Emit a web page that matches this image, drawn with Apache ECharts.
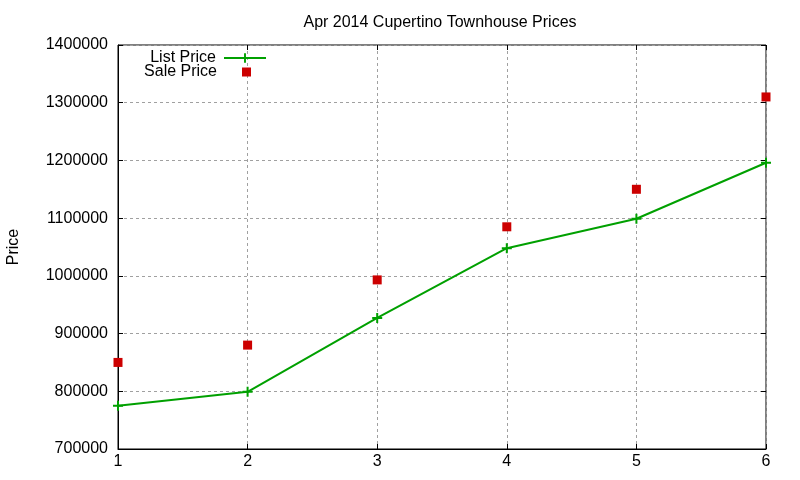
<!DOCTYPE html>
<html><head><meta charset="utf-8">
<script src="https://cdn.jsdelivr.net/npm/echarts@6/dist/echarts.min.js"></script>
<style>html,body{margin:0;padding:0;background:#fff}#c{width:800px;height:480px}</style>
</head><body><div id="c"></div>
<script>
const months = [1, 2, 3, 4, 5, 6];
const listPrice = [775000, 799000, 927000, 1048000, 1099000, 1196000];
const salePrice = [850000, 880000, 993000, 1085000, 1150000, 1310000];
const yTicks = [700000, 800000, 900000, 1000000, 1100000, 1200000, 1300000, 1400000];

const font = 'Liberation Sans, Arial, sans-serif';
const plus = 'path://M4,0H6V4H10V6H6V10H4V6H0V4H4Z';
const txt = {fontFamily: font, fontSize: 16, color: '#000'};
const chart = echarts.init(document.getElementById('c'));
chart.setOption({
  animation: false,
  backgroundColor: '#fff',
  title: {
    text: 'Apr 2014 Cupertino Townhouse Prices',
    left: 435, top: 10, textAlign: 'center',
    textStyle: Object.assign({fontWeight: 'normal'}, txt)
  },
  legend: [{
    orient: 'horizontal', right: 528, top: 45, align: 'right',
    itemWidth: 42, itemHeight: 12,
    textStyle: Object.assign({padding: [0, 3, 0, 0]}, txt),
    data: [{name: 'List Price'}]
  }, {
    orient: 'horizontal', right: 544, top: 59, align: 'right',
    itemWidth: 9, itemHeight: 9,
    textStyle: Object.assign({padding: [0, 20, 0, 0]}, txt),
    data: [{name: 'Sale Price', icon: 'rect'}]
  }],
  grid: {left: 118, right: 34, top: 45, bottom: 31, show: true, borderColor: '#000', borderWidth: 1, outerBoundsMode: 'none'},
  xAxis: [{
    type: 'value', min: 1, max: 6, interval: 1,
    axisLine: {show: true, lineStyle: {color: '#000'}},
    axisTick: {show: true, inside: true, length: 5, lineStyle: {color: '#000'}},
    axisLabel: Object.assign({margin: 5}, txt),
    splitLine: {show: true, lineStyle: {color: '#a0a0a0', type: [3, 3]}}
  }, {
    type: 'value', min: 1, max: 6, interval: 1, position: 'top',
    axisLine: {show: false}, axisTick: {show: true, inside: true, length: 5, lineStyle: {color: '#000'}},
    axisLabel: {show: false}, splitLine: {show: false}
  }],
  yAxis: [{
    type: 'value', min: yTicks[0], max: yTicks[yTicks.length - 1], interval: 100000,
    name: 'Price', nameLocation: 'middle', nameGap: 96, nameRotate: 90,
    nameTextStyle: txt,
    axisLine: {show: true, lineStyle: {color: '#000'}},
    axisTick: {show: true, inside: true, length: 5, lineStyle: {color: '#000'}},
    axisLabel: Object.assign({margin: 10, formatter: v => String(v)}, txt),
    splitLine: {show: true, lineStyle: {color: '#a0a0a0', type: [3, 3]}}
  }, {
    type: 'value', min: yTicks[0], max: yTicks[yTicks.length - 1], interval: 100000, position: 'right',
    axisLine: {show: false}, axisTick: {show: true, inside: true, length: 5, lineStyle: {color: '#000'}},
    axisLabel: {show: false}, splitLine: {show: false}
  }],
  series: [{
    name: 'List Price', type: 'line',
    data: months.map((m, i) => [m, listPrice[i]]),
    symbol: plus, symbolSize: 10, showSymbol: true,
    itemStyle: {color: '#00a000'},
    lineStyle: {color: '#00a000', width: 2},
    z: 3
  }, {
    name: 'Sale Price', type: 'scatter',
    data: months.map((m, i) => [m, salePrice[i]]),
    symbol: 'rect', symbolSize: 9,
    itemStyle: {color: '#cc0000', opacity: 1},
    z: 4
  }]
});
</script></body></html>
